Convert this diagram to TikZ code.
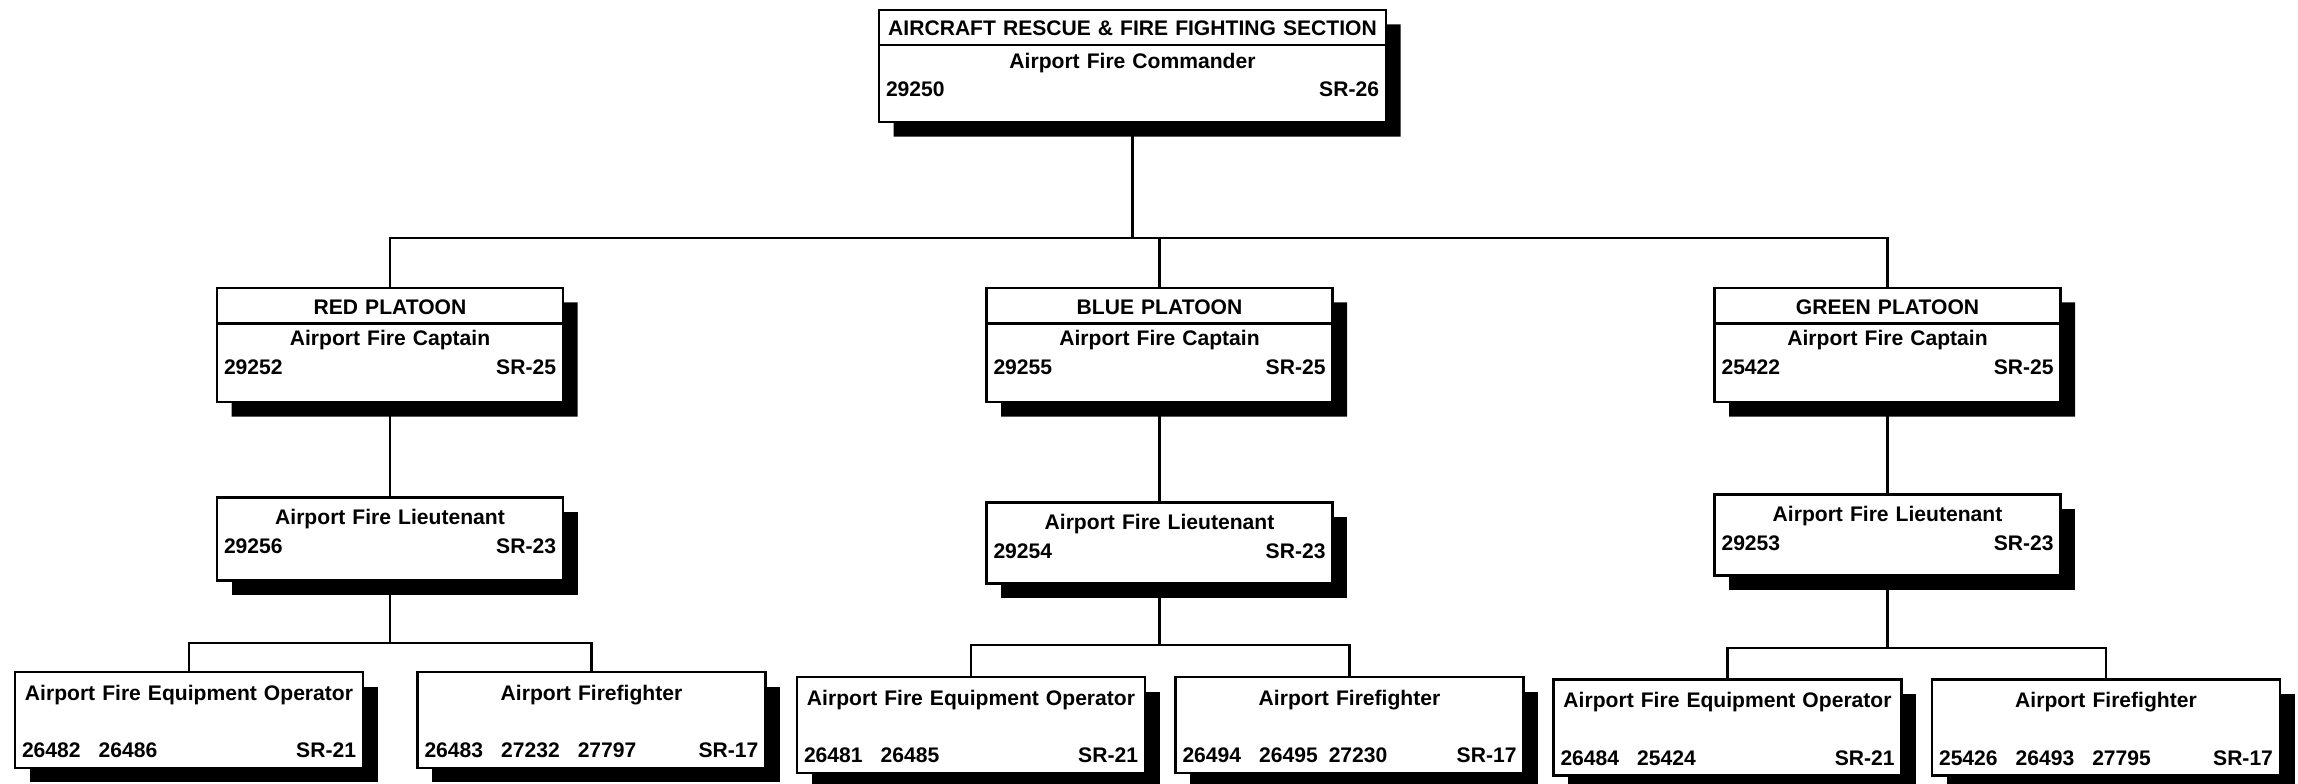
\documentclass[tikz,border=0pt]{standalone}
\usepackage{fontspec}
\setmainfont{Liberation Sans}
\usetikzlibrary{shapes.multipart,shadows}

\newcommand{\idline}[2]{\makebox[\hsize]{#1\hfill #2}}

\begin{document}
\begin{tikzpicture}[
    font=\fontsize{12pt}{16.4pt}\selectfont\bfseries,
    line width=1.4pt,
    boxshadow/.style={drop shadow={shadow xshift=0.29cm, shadow yshift=-0.29cm, fill=black, opacity=1}},
    headbox/.style={draw, fill=white, boxshadow, rectangle split, rectangle split parts=2,
      inner xsep=0.14cm, inner ysep=0pt, align=center},
    ltbox/.style={draw, fill=white, boxshadow, inner xsep=0.14cm, inner ysep=0pt,
      text width=6.64cm, align=center},
    crewbox/.style={draw, fill=white, boxshadow, inner xsep=0.14cm, inner ysep=0pt,
      text width=6.68cm, align=center}
  ]
    \useasboundingbox (0,0) rectangle (45.96,-15.66);

    \node[headbox, text width=9.86cm] (sec) at (22.65,-1.32)
      {\rule[-0.16cm]{0pt}{0.65cm}AIRCRAFT RESCUE \& FIRE FIGHTING SECTION
       \nodepart{two}\rule{0pt}{0.44cm}Airport Fire Commander\\
       \idline{29250}{SR-26}\rule[-0.48cm]{0pt}{0.48cm}};

    \node[headbox, text width=6.64cm] (red) at (7.80,-6.90)
      {\rule[-0.15cm]{0pt}{0.66cm}RED PLATOON
       \nodepart{two}\rule{0pt}{0.42cm}Airport Fire Captain\\
       \idline{29252}{SR-25}\rule[-0.53cm]{0pt}{0.53cm}};
    \node[headbox, text width=6.64cm] (blue) at (23.19,-6.90)
      {\rule[-0.15cm]{0pt}{0.66cm}BLUE PLATOON
       \nodepart{two}\rule{0pt}{0.42cm}Airport Fire Captain\\
       \idline{29255}{SR-25}\rule[-0.53cm]{0pt}{0.53cm}};
    \node[headbox, text width=6.64cm] (green) at (37.75,-6.90)
      {\rule[-0.15cm]{0pt}{0.66cm}GREEN PLATOON
       \nodepart{two}\rule{0pt}{0.42cm}Airport Fire Captain\\
       \idline{25422}{SR-25}\rule[-0.53cm]{0pt}{0.53cm}};

    \node[ltbox] (redlt) at (7.80,-10.78)
      {\rule{0pt}{0.54cm}Airport Fire Lieutenant\\
       \idline{29256}{SR-23}\rule[-0.54cm]{0pt}{0.54cm}};
    \node[ltbox] (bluelt) at (23.19,-10.86)
      {\rule{0pt}{0.54cm}Airport Fire Lieutenant\\
       \idline{29254}{SR-23}\rule[-0.5cm]{0pt}{0.5cm}};
    \node[ltbox] (greenlt) at (37.75,-10.70)
      {\rule{0pt}{0.54cm}Airport Fire Lieutenant\\
       \idline{29253}{SR-23}\rule[-0.5cm]{0pt}{0.5cm}};

    \node[crewbox] (redeo) at (3.78,-14.40)
      {\rule{0pt}{0.56cm}Airport Fire Equipment Operator\\[0.58cm]
       \idline{26482\hspace{0.36cm}26486}{SR-21}\rule[-0.2cm]{0pt}{0.2cm}};
    \node[crewbox] (redff) at (11.83,-14.40)
      {\rule{0pt}{0.56cm}Airport Firefighter\\[0.58cm]
       \idline{26483\hspace{0.36cm}27232\hspace{0.36cm}27797}{SR-17}\rule[-0.2cm]{0pt}{0.2cm}};
    \node[crewbox] (blueeo) at (19.42,-14.50)
      {\rule{0pt}{0.56cm}Airport Fire Equipment Operator\\[0.58cm]
       \idline{26481\hspace{0.36cm}26485}{SR-21}\rule[-0.2cm]{0pt}{0.2cm}};
    \node[crewbox] (blueff) at (26.99,-14.50)
      {\rule{0pt}{0.56cm}Airport Firefighter\\[0.58cm]
       \idline{26494\hspace{0.36cm}26495\hspace{0.22cm}27230}{SR-17}\rule[-0.2cm]{0pt}{0.2cm}};
    \node[crewbox] (greeneo) at (34.55,-14.55)
      {\rule{0pt}{0.56cm}Airport Fire Equipment Operator\\[0.58cm]
       \idline{26484\hspace{0.36cm}25424}{SR-21}\rule[-0.2cm]{0pt}{0.2cm}};
    \node[crewbox] (greenff) at (42.12,-14.55)
      {\rule{0pt}{0.56cm}Airport Firefighter\\[0.58cm]
       \idline{25426\hspace{0.36cm}26493\hspace{0.36cm}27795}{SR-17}\rule[-0.2cm]{0pt}{0.2cm}};

    % bus lines
    \coordinate (bus) at (22.65,-4.76);
    \coordinate (redbus) at (7.80,-12.86);
    \coordinate (bluebus) at (23.19,-12.90);
    \coordinate (greenbus) at (37.75,-12.96);

    \draw (sec.south) -- (bus);
    \draw (bus) -| (red.north);
    \draw (bus) -| (blue.north);
    \draw (bus) -| (green.north);

    \draw (red.south) -- (redlt.north);
    \draw (blue.south) -- (bluelt.north);
    \draw (green.south) -- (greenlt.north);

    \draw (redlt.south) -- (redbus) -| (redeo.north);
    \draw (redbus) -| (redff.north);
    \draw (bluelt.south) -- (bluebus) -| (blueeo.north);
    \draw (bluebus) -| (blueff.north);
    \draw (greenlt.south) -- (greenbus) -| (greeneo.north);
    \draw (greenbus) -| (greenff.north);
  \end{tikzpicture}
\end{document}
